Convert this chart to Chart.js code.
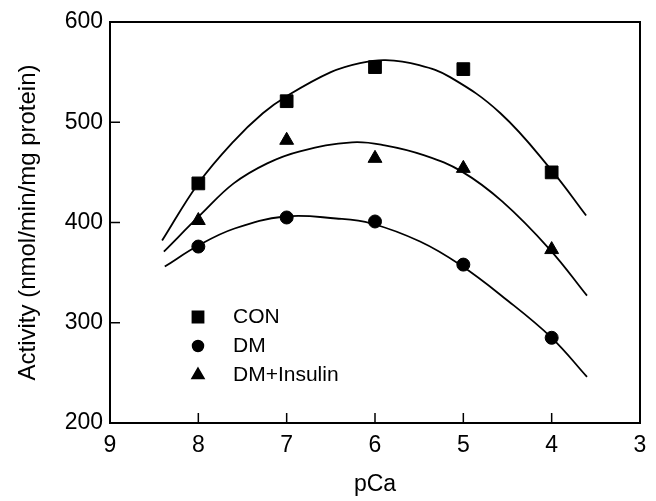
<!DOCTYPE html>
<html>
<head>
<meta charset="utf-8">
<script src="https://cdn.jsdelivr.net/npm/chart.js@4.4.1/dist/chart.umd.min.js"></script>
<style>
  html, body { margin: 0; padding: 0; background: #fff; }
  #wrap { width: 656px; height: 501px; position: relative; }
</style>
</head>
<body>
<div id="wrap"><canvas id="pcaChart"></canvas></div>
<script>
// measured points
const pCa = [8, 7, 6, 5, 4];
const conValues = [439, 521, 555, 553, 450];
const dmValues = [376, 405, 401, 358, 285];
const dmInsValues = [402, 482, 464, 454, 373];

// fitted curves as drawn in the figure, [pCa, activity]
const conCurve = [[8.41, 382], [8.0, 439], [7.6, 481], [7.27, 509], [7.0, 526], [6.5, 550], [6.17, 559], [5.88, 562], [5.5, 557], [5.15, 545], [4.58, 509], [4.0, 452], [3.61, 407]];
const dmInsCurve = [[8.39, 371], [7.96, 409], [7.6, 439], [7.22, 459], [6.85, 471], [6.26, 480], [5.89, 477], [5.44, 467], [5.02, 451], [4.56, 421], [4.02, 373], [3.6, 327]];
const dmCurve = [[8.38, 356], [8.0, 377], [7.59, 394], [7.02, 406], [6.44, 404], [6.04, 399], [5.49, 381], [5.04, 358], [4.54, 325], [4.0, 285], [3.6, 246]];

const xTicks = [9, 8, 7, 6, 5, 4, 3];
const yTicks = [200, 300, 400, 500, 600];

const groups = [
  { label: 'CON', style: 'rect', radius: 9 },
  { label: 'DM', style: 'circle', radius: 6.5 },
  { label: 'DM+Insulin', style: 'triangle', radius: 8 }
];

const FONT = 'Arial, "Liberation Sans", Helvetica, sans-serif';
Chart.defaults.font.family = FONT;
Chart.defaults.color = '#000';

const toXY = arr => arr.map(p => ({ x: p[0], y: p[1] }));
const pts = vals => pCa.map((x, i) => ({ x: x, y: vals[i] }));

function curveSet(data) {
  return {
    type: 'line',
    data: toXY(data),
    borderColor: '#000',
    borderWidth: 1.8,
    pointRadius: 0,
    fill: false,
    tension: 0.4
  };
}

function markerSet(label, vals, g) {
  return {
    type: 'scatter',
    label: label,
    data: pts(vals),
    pointStyle: g.style,
    pointRadius: g.radius,
    pointBackgroundColor: '#000',
    pointBorderColor: '#000',
    pointBorderWidth: 1,
    showLine: false
  };
}

// frame, inward tick marks and the legend box in the lower left
const framePlugin = {
  id: 'frame',
  afterDraw(chart) {
    const ctx = chart.ctx;
    const a = chart.chartArea;
    const xs = chart.scales.x;
    const ys = chart.scales.y;
    ctx.save();
    ctx.strokeStyle = '#000';
    ctx.lineWidth = 2;
    ctx.strokeRect(a.left, a.top, a.right - a.left, a.bottom - a.top);
    ctx.lineWidth = 1.5;
    ctx.beginPath();
    xTicks.slice(1, -1).forEach(v => {
      const px = xs.getPixelForValue(v);
      ctx.moveTo(px, a.bottom);
      ctx.lineTo(px, a.bottom - 10);
    });
    yTicks.slice(1, -1).forEach(v => {
      const py = ys.getPixelForValue(v);
      ctx.moveTo(a.left, py);
      ctx.lineTo(a.left + 10, py);
    });
    ctx.stroke();

    ctx.fillStyle = '#000';
    ctx.font = '21px ' + FONT;
    ctx.textBaseline = 'middle';
    ctx.textAlign = 'left';
    const lx = a.left + 88;
    const ly = a.top + 295;
    groups.forEach((g, i) => {
      const y = ly + i * 29;
      Chart.helpers.drawPoint(ctx, { pointStyle: g.style, radius: g.radius - 1, rotation: 0, borderWidth: 1 }, lx, y);
      ctx.fillText(g.label, lx + 35, y);
    });
    ctx.restore();
  }
};

new Chart(document.getElementById('pcaChart'), {
  type: 'scatter',
  data: {
    datasets: [
      curveSet(conCurve),
      curveSet(dmInsCurve),
      curveSet(dmCurve),
      markerSet('CON', conValues, groups[0]),
      markerSet('DM', dmValues, groups[1]),
      markerSet('DM+Insulin', dmInsValues, groups[2])
    ]
  },
  options: {
    responsive: true,
    maintainAspectRatio: false,
    animation: false,
    layout: { padding: { left: 0, right: 16, top: 22, bottom: 0 } },
    plugins: {
      legend: { display: false },
      tooltip: { enabled: false }
    },
    scales: {
      x: {
        type: 'linear',
        min: 3,
        max: 9,
        reverse: true,
        afterFit: s => { s.height = 78; },
        afterBuildTicks: s => { s.ticks = xTicks.map(v => ({ value: v })); },
        ticks: { font: { size: 23 }, color: '#000', padding: 9 },
        grid: { display: false, drawTicks: false },
        border: { display: false },
        title: { display: true, text: 'pCa', font: { size: 23 }, color: '#000', padding: { top: 0, bottom: 3 } }
      },
      y: {
        min: 200,
        max: 600,
        afterFit: s => { s.width = 110; },
        afterBuildTicks: s => { s.ticks = yTicks.map(v => ({ value: v })); },
        ticks: { font: { size: 23 }, color: '#000', padding: 7 },
        grid: { display: false, drawTicks: false },
        border: { display: false },
        title: { display: true, text: 'Activity (nmol/min/mg protein)', font: { size: 24 }, color: '#000', padding: { top: 14, bottom: 0 } }
      }
    }
  },
  plugins: [framePlugin]
});
</script>
</body>
</html>
